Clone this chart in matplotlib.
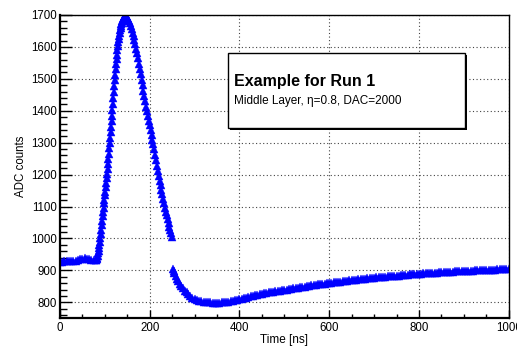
import matplotlib
matplotlib.use("Agg")
import matplotlib.pyplot as plt
from matplotlib.ticker import MultipleLocator
from matplotlib.patches import Rectangle

# ---- data (time in ns, ADC counts) ----
t_base = [0, 5, 10, 15, 20, 25, 30, 35, 40, 45, 50, 55, 60, 65, 70, 75, 80]
adc_base = [927, 927, 928, 928, 928, 929, 929, 930, 932, 935, 937, 938, 937, 935, 933, 932, 932]

t_rise = list(range(81, 151))
adc_rise = [933, 935, 940, 946, 953, 961, 970, 979, 989, 1000,
            1014, 1028, 1042, 1056, 1070, 1084, 1097, 1110, 1122, 1135,
            1147, 1160, 1174, 1188, 1203, 1218, 1234, 1250, 1266, 1282,
            1298, 1315, 1332, 1350, 1367, 1385, 1402, 1420, 1439, 1458,
            1477, 1495, 1513, 1530, 1546, 1562, 1576, 1590, 1603, 1615,
            1625, 1635, 1644, 1652, 1659, 1665, 1671, 1676, 1680, 1684,
            1687, 1690, 1693, 1695, 1696, 1697, 1697, 1696, 1694, 1692]

t_fall = list(range(152, 251, 2))
adc_fall = [1688, 1682, 1675, 1666, 1656, 1645, 1634, 1622, 1609, 1595,
            1580, 1564, 1548, 1531, 1514, 1497, 1480, 1463, 1446, 1430,
            1413, 1398, 1383, 1368, 1354, 1340, 1325, 1310, 1295, 1279,
            1262, 1245, 1228, 1211, 1196, 1181, 1166, 1152, 1138, 1124,
            1110, 1097, 1084, 1072, 1060, 1048, 1037, 1026, 1016, 1006]

t_under = [251, 253, 255, 258, 261, 264, 267, 270, 274, 278, 282, 286, 290, 295,
           300, 305, 310, 315, 320, 325, 330, 335, 340, 345, 350, 355, 360,
           365, 370, 375, 380, 385, 390, 395, 400]
adc_under = [903, 897, 891, 882, 874, 866, 859, 852, 844, 837, 831, 825, 820, 815,
             811, 808, 805, 803, 802, 801, 800, 800, 799, 799, 799, 799, 800,
             800, 801, 802, 803, 804, 806, 807, 809]

t_tail = list(range(405, 1001, 5))
adc_tail = [811, 813, 815, 817, 819, 820, 822, 823, 825, 826,
            828, 829, 831, 832, 833, 834, 836, 837, 838, 839,
            840, 841, 843, 844, 845, 846, 847, 848, 849, 850,
            852, 853, 854, 855, 856, 857, 858, 859, 860, 861,
            862, 863, 864, 865, 865, 866, 867, 868, 869, 870,
            870, 871, 872, 873, 873, 874, 875, 876, 876, 877,
            878, 879, 879, 880, 880, 881, 882, 883, 883, 884,
            884, 885, 885, 886, 887, 888, 888, 889, 889, 890,
            890, 891, 891, 892, 892, 893, 893, 893, 894, 894,
            894, 895, 895, 896, 896, 897, 897, 897, 898, 898,
            898, 899, 899, 899, 900, 900, 900, 901, 901, 901,
            902, 902, 902, 902, 903, 903, 903, 903, 904, 904]

time_ns = t_base + t_rise + t_fall + t_under + t_tail
adc = adc_base + adc_rise + adc_fall + adc_under + adc_tail

title = "Example for Run 1"
subtitle = "Middle Layer, \u03b7=0.8, DAC=2000"
xlabel = "Time [ns]"
ylabel = "ADC counts"

# ---- figure ----
plt.rcParams['font.family'] = ['Liberation Sans', 'DejaVu Sans']
W, H = 517, 347
fig = plt.figure(figsize=(W / 100, H / 100), dpi=100)
fig.patch.set_facecolor('white')
ax = fig.add_axes([60 / W, 1 - 318.3 / H, (508.7 - 60) / W, (318.3 - 15) / H])

ax.plot(time_ns, adc, linestyle='none', marker='^', markersize=6.0,
        color='#0000ff', markeredgewidth=0.3, markeredgecolor='#0000ff')

ax.set_xlim(0, 1000)
ax.set_ylim(750, 1700)
ax.xaxis.set_major_locator(MultipleLocator(200))
ax.xaxis.set_minor_locator(MultipleLocator(50))
ax.yaxis.set_major_locator(MultipleLocator(100))
ax.yaxis.set_minor_locator(MultipleLocator(20))

ax.grid(True, which='major', color='#444444', linestyle=(0, (1, 2.2)), linewidth=0.8)
ax.set_axisbelow(True)

ax.tick_params(axis='both', which='both', direction='in', top=False, right=False,
               labelsize=8.3, colors='black', width=1.0)
ax.tick_params(axis='y', which='major', length=8.5, pad=2)
ax.tick_params(axis='y', which='minor', length=4.8)
ax.tick_params(axis='x', which='major', length=6, pad=3)
ax.tick_params(axis='x', which='minor', length=3)

for side in ['left', 'bottom']:
    ax.spines[side].set_linewidth(1.6)
for side in ['top', 'right']:
    ax.spines[side].set_linewidth(1.0)

ax.set_xlabel(xlabel, fontsize=8.5, labelpad=0)
ax.set_ylabel(ylabel, fontsize=8.3, labelpad=3)

# ---- text box (pave) ----
bx0, bx1, by0, by1 = 228.3, 465, 52.7, 128.3
shadow = Rectangle((bx0 + 2, H - by1 - 2), bx1 - bx0, by1 - by0,
                   transform=None, facecolor='black', edgecolor='none', zorder=5)
box = Rectangle((bx0, H - by1), bx1 - bx0, by1 - by0, transform=None,
                facecolor='white', edgecolor='black', linewidth=1.0, zorder=6)
fig.patches.extend([shadow, box])
fig.text(234 / W, 1 - 81.5 / H, title, fontsize=11.5, fontweight='bold',
         ha='left', va='center', zorder=7)
fig.text(234 / W, 1 - 101 / H, subtitle, fontsize=8.5,
         ha='left', va='center', zorder=7)

fig.savefig('out.png', dpi=100, facecolor='white')
